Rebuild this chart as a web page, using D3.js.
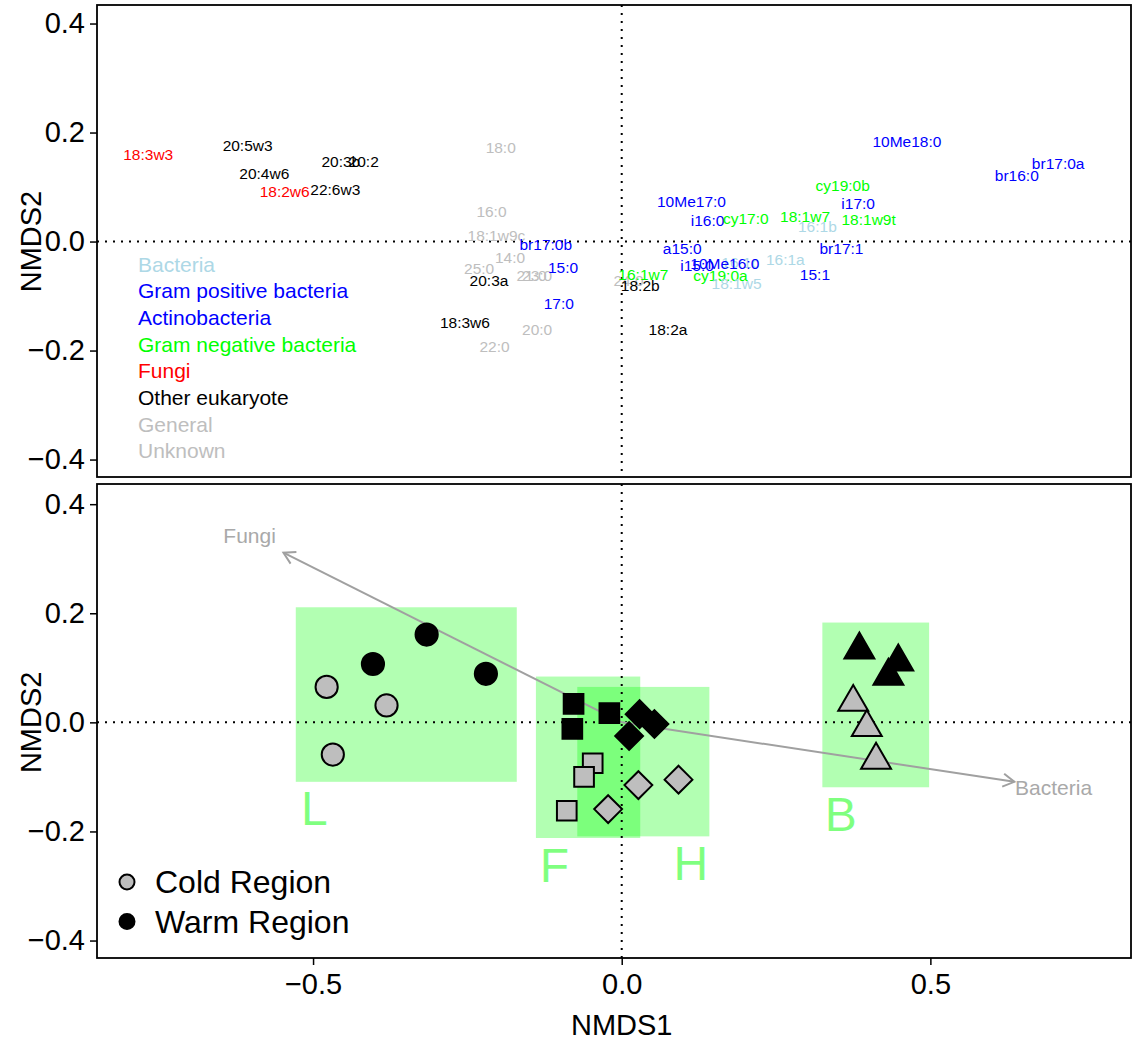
<!DOCTYPE html>
<html>
<head>
<meta charset="utf-8">
<script src="https://cdn.jsdelivr.net/npm/d3@7"></script>
<style>
  html, body { margin: 0; padding: 0; background: #fff; }
  svg { display: block; font-family: "Liberation Sans", Arial, Helvetica, sans-serif; }
</style>
</head>
<body>
<svg id="chart" width="1132" height="1045"></svg>
<script>
// ---- Fatty acid (PLFA) scores: NMDS species scores ----
const faNames = ["18:3w3","20:5w3","20:3b","20:2","20:4w6","18:2w6","22:6w3",
  "18:0","16:0","18:1w9c","br17:0b","14:0","25:0","20:3a","21:0","23:0","15:0","17:0",
  "18:3w6","20:0","22:0","24:0","16:1w7","18:2b",
  "10Me17:0","i16:0","cy17:0","18:1w7","16:1b","cy19:0b","i17:0","18:1w9t","10Me18:0",
  "br17:0a","br16:0","br17:1","16:1a","15:1","a15:0","i15:0","16:1c","10Me16:0",
  "cy19:0a","18:1w5","18:2a"];
const faX = [-0.767,-0.606,-0.455,-0.418,-0.579,-0.546,-0.464,
  -0.196,-0.211,-0.203,-0.123,-0.181,-0.231,-0.215,-0.146,-0.137,-0.095,-0.102,
  -0.254,-0.137,-0.206,0.011,0.035,0.030,
  0.113,0.139,0.201,0.297,0.317,0.358,0.383,0.400,0.462,
  0.707,0.640,0.356,0.265,0.313,0.098,0.122,0.192,0.167,
  0.160,0.186,0.075];
const faY = [0.159,0.176,0.146,0.146,0.125,0.091,0.095,
  0.173,0.055,0.012,-0.006,-0.030,-0.049,-0.072,-0.063,-0.063,-0.047,-0.113,
  -0.149,-0.161,-0.193,-0.071,-0.060,-0.080,
  0.073,0.039,0.043,0.046,0.027,0.102,0.070,0.041,0.184,
  0.144,0.122,-0.013,-0.033,-0.060,-0.013,-0.044,-0.039,-0.041,
  -0.062,-0.077,-0.162];
const faGroup = ["Fungi","Other eukaryote","Other eukaryote","Other eukaryote","Other eukaryote","Fungi","Other eukaryote",
  "General","General","General","Gram positive bacteria","General","General","Other eukaryote","General","General","Gram positive bacteria","Gram positive bacteria",
  "Other eukaryote","General","General","General","Gram negative bacteria","Other eukaryote",
  "Actinobacteria","Gram positive bacteria","Gram negative bacteria","Gram negative bacteria","Bacteria","Gram negative bacteria","Gram positive bacteria","Gram negative bacteria","Actinobacteria",
  "Gram positive bacteria","Gram positive bacteria","Gram positive bacteria","Bacteria","Gram positive bacteria","Gram positive bacteria","Gram positive bacteria","Bacteria","Actinobacteria",
  "Gram negative bacteria","Bacteria","Other eukaryote"];

const groupNames = ["Bacteria","Gram positive bacteria","Actinobacteria","Gram negative bacteria",
  "Fungi","Other eukaryote","General","Unknown"];
const groupColors = ["#ADD8E6","#0000FF","#0000FF","#00FF00","#FF0000","#000000","#BEBEBE","#BEBEBE"];

// ---- Sample scores ----
const sampleX = [-0.403,-0.316,-0.220,-0.478,-0.381,-0.468,
  -0.078,-0.080,-0.020,-0.047,-0.061,-0.089,
  0.029,0.053,0.012,0.027,0.092,-0.022,
  0.385,0.448,0.432,0.375,0.397,0.412];
const sampleY = [0.107,0.161,0.089,0.065,0.031,-0.059,
  0.034,-0.012,0.017,-0.075,-0.100,-0.162,
  0.015,-0.003,-0.025,-0.115,-0.105,-0.159,
  0.133,0.111,0.085,0.037,-0.009,-0.069];
const sampleRegion = ["Warm","Warm","Warm","Cold","Cold","Cold",
  "Warm","Warm","Warm","Cold","Cold","Cold",
  "Warm","Warm","Warm","Cold","Cold","Cold",
  "Warm","Warm","Warm","Cold","Cold","Cold"];
const sampleHabitat = ["L","L","L","L","L","L","F","F","F","F","F","F",
  "H","H","H","H","H","H","B","B","B","B","B","B"];
const habitats = ["L","F","H","B"];

// ---- Fitted vectors ----
const vectorNames = ["Fungi","Bacteria"];
const vectorX = [-0.548, 0.636];
const vectorY = [0.311, -0.109];

const regionNames = ["Cold Region","Warm Region"];
const xTicks = [-0.5, 0.0, 0.5];
const yTicks = [-0.4, -0.2, 0.0, 0.2, 0.4];

// ---------------------------------------------------------------
const svg = d3.select("#chart");
const left = 97, right = 1131;
const fmt = d3.format(".1f");
const minus = s => s.replace("-", "\u2212");

const x = d3.scaleLinear().domain([-0.85, 0.825]).range([left, right]);
const yTop = d3.scaleLinear().domain([-0.432, 0.434]).range([477, 5]);
const yBot = d3.scaleLinear().domain([-0.432, 0.437]).range([958, 484]);

const colorOf = d3.scaleOrdinal().domain(groupNames).range(groupColors);

function frame(y, top, bottom) {
  const g = svg.append("g");
  // y axis ticks + labels
  const ax = d3.axisLeft(y).tickValues(yTicks).tickSize(7).tickPadding(5)
    .tickFormat(d => minus(fmt(d)));
  const a = svg.append("g").attr("transform", `translate(${left},0)`).call(ax);
  a.select(".domain").remove();
  a.selectAll("line").attr("stroke", "#000").attr("stroke-width", 1.5);
  a.selectAll("text").attr("font-size", 29).attr("fill", "#000")
    .attr("font-family", "Liberation Sans, Arial, sans-serif");
  return g;
}

function guides(y, top, bottom) {
  const g = svg.append("g").attr("stroke", "#000").attr("stroke-width", 2)
    .attr("stroke-dasharray", "2,6");
  g.append("line").attr("x1", left).attr("x2", right).attr("y1", y(0)).attr("y2", y(0));
  g.append("line").attr("x1", x(0)).attr("x2", x(0)).attr("y1", top).attr("y2", bottom);
}

function box(top, bottom) {
  svg.append("rect").attr("x", left).attr("y", top)
    .attr("width", right - left).attr("height", bottom - top)
    .attr("fill", "none").attr("stroke", "#000").attr("stroke-width", 1.8);
}

// ======================= TOP PANEL =======================
guides(yTop, 5, 477);

svg.append("g").selectAll("text").data(faNames).join("text")
  .attr("x", (d, i) => x(faX[i]))
  .attr("y", (d, i) => yTop(faY[i]))
  .attr("text-anchor", "middle")
  .attr("dominant-baseline", "central")
  .attr("font-size", 15.5)
  .attr("fill", (d, i) => colorOf(faGroup[i]))
  .text(d => d);

svg.append("g").selectAll("text").data(groupNames).join("text")
  .attr("x", 138)
  .attr("y", (d, i) => 264 + i * 26.7)
  .attr("dominant-baseline", "central")
  .attr("font-size", 21)
  .attr("fill", d => colorOf(d))
  .text(d => d);

frame(yTop);
box(5, 477);

// ======================= BOTTOM PANEL =======================
const samples = sampleX.map((v, i) => ({x: v, y: sampleY[i], region: sampleRegion[i], hab: sampleHabitat[i]}));
const pad = 0.05;
const hulls = habitats.map(h => {
  const pts = samples.filter(s => s.hab === h);
  return {
    hab: h,
    x0: d3.min(pts, p => p.x) - pad, x1: d3.max(pts, p => p.x) + pad,
    y0: d3.min(pts, p => p.y) - pad, y1: d3.max(pts, p => p.y) + pad
  };
});

svg.append("g").selectAll("rect").data(hulls).join("rect")
  .attr("x", d => x(d.x0)).attr("width", d => x(d.x1) - x(d.x0))
  .attr("y", d => yBot(d.y1)).attr("height", d => yBot(d.y0) - yBot(d.y1))
  .attr("fill", "#00FF00").attr("fill-opacity", 0.3);

guides(yBot, 484, 958);

// vectors
const vecG = svg.append("g");
vectorNames.forEach((name, i) => {
  const x0 = x(0), y0 = yBot(0), x1 = x(vectorX[i]), y1 = yBot(vectorY[i]);
  const ang = Math.atan2(y1 - y0, x1 - x0);
  const L = 13, spread = Math.PI / 6;
  vecG.append("line").attr("x1", x0).attr("y1", y0).attr("x2", x1).attr("y2", y1)
    .attr("stroke", "#A0A0A0").attr("stroke-width", 2);
  vecG.append("path")
    .attr("d", `M${x1 - L * Math.cos(ang - spread)},${y1 - L * Math.sin(ang - spread)}L${x1},${y1}L${x1 - L * Math.cos(ang + spread)},${y1 - L * Math.sin(ang + spread)}`)
    .attr("fill", "none").attr("stroke", "#A0A0A0").attr("stroke-width", 2);
  vecG.append("text")
    .attr("x", x(vectorX[i] * 1.1)).attr("y", yBot(vectorY[i] * 1.1))
    .attr("text-anchor", "middle").attr("dominant-baseline", "central")
    .attr("font-size", 21).attr("fill", "#A9A9A9").text(name);
});

// sample symbols
const r = 11.1;
const symbolPath = {
  L: () => d3.path(),
};
function shape(hab) {
  if (hab === "L") return `M${r},0A${r},${r} 0 1,1 ${-r},0A${r},${r} 0 1,1 ${r},0Z`;
  if (hab === "F") { const s = 0.8862 * r; return `M${-s},${-s}H${s}V${s}H${-s}Z`; }
  if (hab === "H") { const s = 1.2533 * r; return `M0,${-s}L${s},0L0,${s}L${-s},0Z`; }
  const a = 1.5551 * r, b = 1.3468 * r, c = 0.7776 * r;
  return `M0,${-a}L${b},${c}L${-b},${c}Z`;
}
svg.append("g").selectAll("path").data(samples).join("path")
  .attr("transform", d => `translate(${x(d.x)},${yBot(d.y)})`)
  .attr("d", d => shape(d.hab))
  .attr("fill", d => d.region === "Warm" ? "#000" : "#BEBEBE")
  .attr("stroke", "#000").attr("stroke-width", 2).attr("stroke-linejoin", "miter");

// habitat letters
svg.append("g").selectAll("text").data(hulls).join("text")
  .attr("x", d => d.hab === "H" ? x(d.x1 - 0.03) : x(d.x0 + 0.03))
  .attr("y", d => yBot(d.y0 - 0.08))
  .attr("text-anchor", "middle")
  .attr("font-size", 48)
  .attr("fill", "#00FF00").attr("fill-opacity", 0.5)
  .text(d => d.hab);

// region legend
const leg = svg.append("g");
regionNames.forEach((name, i) => {
  const cy = 882 + i * 39.5;
  leg.append("circle").attr("cx", 127).attr("cy", cy).attr("r", 7.5)
    .attr("fill", i === 0 ? "#BEBEBE" : "#000").attr("stroke", "#000").attr("stroke-width", 2);
  leg.append("text").attr("x", 155).attr("y", cy).attr("dominant-baseline", "central")
    .attr("font-size", 32).attr("fill", "#000").text(name);
});

frame(yBot);
box(484, 958);

// x axis
const xa = svg.append("g").attr("transform", "translate(0,958)")
  .call(d3.axisBottom(x).tickValues(xTicks).tickSize(7).tickPadding(8).tickFormat(d => minus(fmt(d))));
xa.select(".domain").remove();
xa.selectAll("line").attr("stroke", "#000").attr("stroke-width", 1.5);
xa.selectAll("text").attr("font-size", 29).attr("fill", "#000")
  .attr("font-family", "Liberation Sans, Arial, sans-serif");

// axis titles
svg.append("text").attr("x", x(0)).attr("y", 1025).attr("text-anchor", "middle")
  .attr("dominant-baseline", "central").attr("font-size", 29).text("NMDS1");
[yTop, yBot].forEach(y => {
  svg.append("text")
    .attr("transform", `translate(31,${y(0)}) rotate(-90)`)
    .attr("text-anchor", "middle").attr("dominant-baseline", "central")
    .attr("font-size", 29).text("NMDS2");
});
</script>
</body>
</html>
